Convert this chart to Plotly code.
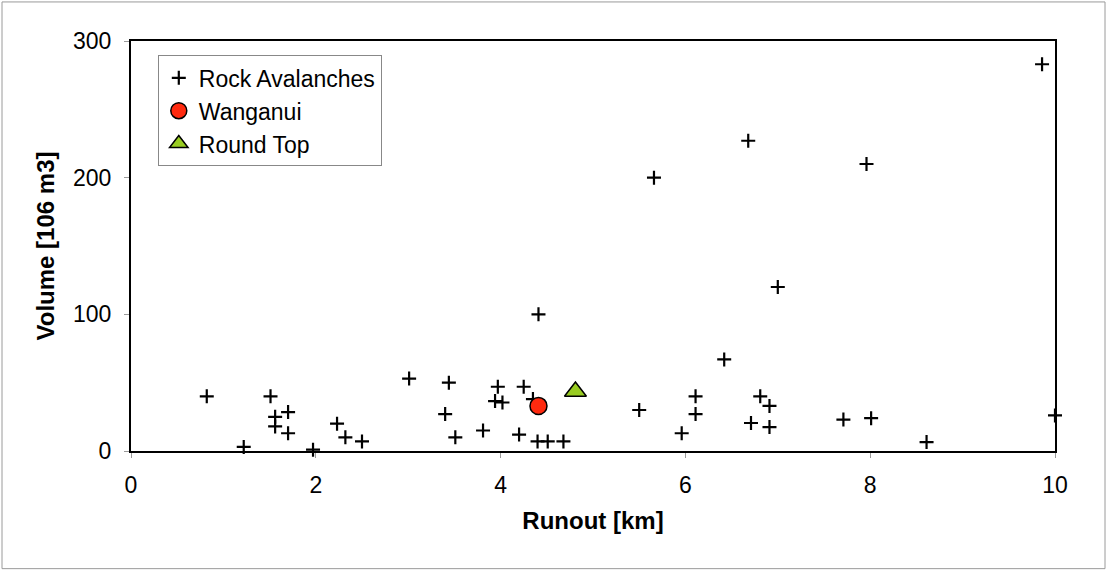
import plotly.graph_objects as go

# Rock avalanches: runout [km], volume [10^6 m3]
rock_runout = [0.82, 1.51, 1.56, 1.70, 1.56, 1.70, 1.22, 1.97, 2.23, 2.32, 2.50,
               3.01, 3.44, 3.40, 3.51, 3.81, 3.97, 3.94, 4.02, 4.25, 4.35, 4.20,
               4.40, 4.51, 4.68, 4.41, 5.50, 5.66, 5.96, 6.11, 6.11, 6.42, 6.68,
               6.81, 6.91, 6.71, 6.91, 7.00, 7.71, 7.96, 8.01, 8.61, 9.86, 10.0]
rock_volume = [40, 40, 25, 28.5, 18, 13, 3, 1, 20, 10, 7,
               53, 50, 27, 10, 15, 47, 36.5, 35.5, 47, 38, 12,
               7, 7, 7, 100, 30, 200, 13, 40, 27, 67, 227,
               40, 33, 20.5, 17.5, 120, 23, 210, 24, 6.5, 283, 26]

wanganui_runout = [4.41]
wanganui_volume = [33]

roundtop_runout = [4.81]
roundtop_volume = [43.5]

x_ticks = [0, 2, 4, 6, 8, 10]
y_ticks = [0, 100, 200, 300]

FONT = "Liberation Sans, Arial, sans-serif"

fig = go.Figure()
fig.add_trace(go.Scatter(
    x=rock_runout, y=rock_volume, mode="markers", name="Rock Avalanches",
    marker=dict(symbol="cross-thin", size=10, color="black",
                line=dict(color="black", width=2.2)),
    cliponaxis=False, legendgroup="a"))
fig.add_trace(go.Scatter(
    x=wanganui_runout, y=wanganui_volume, mode="markers", name="Wanganui",
    marker=dict(symbol="circle", size=17, color="#ff2a0f",
                line=dict(color="black", width=1.5)),
    cliponaxis=False, legendgroup="b"))
fig.add_trace(go.Scatter(
    x=roundtop_runout, y=roundtop_volume, mode="markers", name="Round Top",
    marker=dict(symbol="triangle-up", size=19, color="#99cc22",
                line=dict(color="black", width=1.5)),
    cliponaxis=False, legendgroup="c"))

fig.update_layout(
    width=1107, height=571,
    margin=dict(l=131, r=52, t=41, b=120),
    paper_bgcolor="white", plot_bgcolor="white",
    font=dict(family=FONT, color="black", size=23),
    showlegend=True,
    legend=dict(x=0.029, y=0.965, xanchor="left", yanchor="top",
                bgcolor="white", bordercolor="#888888", borderwidth=1,
                font=dict(size=23, family=FONT), tracegroupgap=0,
                itemwidth=30),
    xaxis=dict(range=[0, 10], tickvals=x_ticks, showgrid=False, zeroline=False,
               showline=True, linecolor="black", linewidth=2, mirror=True,
               ticks="outside", ticklen=5, tickcolor="#999999",
               tickfont=dict(size=23), ticklabelstandoff=7,
               title=dict(text="<b>Runout [km]</b>", font=dict(size=24), standoff=16)),
    yaxis=dict(range=[0, 300], tickvals=y_ticks, showgrid=False, zeroline=False,
               showline=True, linecolor="black", linewidth=2, mirror=True,
               ticks="outside", ticklen=5, tickcolor="#999999",
               tickfont=dict(size=23), ticklabelstandoff=8,
               title=dict(text="<b>Volume [106 m3]</b>", font=dict(size=24), standoff=12)),
    shapes=[dict(type="rect", xref="paper", yref="paper",
                 x0=(2 - 131) / 924, x1=(1105 - 131) / 924,
                 y0=(450.5 - 568) / 409.5, y1=(450.5 - 2) / 409.5,
                 line=dict(color="#9a9a9a", width=1), layer="below")],
)

fig.write_html("out.html")
